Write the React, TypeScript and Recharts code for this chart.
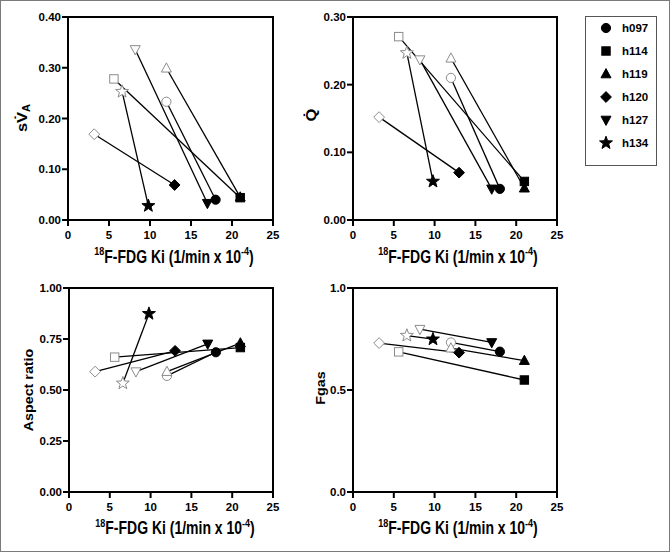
import React from 'react';
import { ScatterChart, Scatter, XAxis, YAxis, ReferenceArea } from 'recharts';

const subjects = ['h097', 'h114', 'h119', 'h120', 'h127', 'h134'];
const shapes = ['circle', 'square', 'triangle', 'diamond', 'down', 'star'];
const kiPre = [12.0, 5.6, 12.0, 3.2, 8.2, 6.6];
const kiPost = [18.0, 21.0, 21.0, 13.0, 17.0, 9.8];

const svaPre = [0.233, 0.278, 0.299, 0.169, 0.336, 0.253];
const svaPost = [0.04, 0.044, 0.045, 0.069, 0.033, 0.028];
const qPre = [0.21, 0.271, 0.239, 0.152, 0.237, 0.247];
const qPost = [0.046, 0.057, 0.047, 0.07, 0.046, 0.057];
const arPre = [0.569, 0.661, 0.59, 0.59, 0.59, 0.533];
const arPost = [0.685, 0.708, 0.73, 0.692, 0.726, 0.874];
const fgPre = [0.733, 0.687, 0.705, 0.73, 0.798, 0.767];
const fgPost = [0.688, 0.549, 0.644, 0.683, 0.733, 0.749];

const xTicks = [0, 5, 10, 15, 20, 25];
const ticks2 = [0, 0.1, 0.2, 0.3, 0.4];
const ticksQ = [0, 0.1, 0.2, 0.3];
const ticksAR = [0, 0.25, 0.5, 0.75, 1.0];
const ticksFg = [0, 0.5, 1.0];

const FONT = '"Liberation Sans", Arial, sans-serif';
const OPEN_STROKE = '#8c8c8c';

function Marker({ shape, cx, cy, open }: { shape: string; cx: number; cy: number; open: boolean }) {
  const fill = open ? '#fff' : '#000';
  const stroke = open ? OPEN_STROKE : '#000';
  const sw = 1;
  if (shape === 'circle') return <circle cx={cx} cy={cy} r={4.6} fill={fill} stroke={stroke} strokeWidth={sw} />;
  if (shape === 'square') return <rect x={cx - 4.2} y={cy - 4.2} width={8.4} height={8.4} fill={fill} stroke={stroke} strokeWidth={sw} />;
  if (shape === 'triangle')
    return <polygon points={`${cx},${cy - 5.4} ${cx + 5},${cy + 3.8} ${cx - 5},${cy + 3.8}`} fill={fill} stroke={stroke} strokeWidth={sw} />;
  if (shape === 'down')
    return <polygon points={`${cx},${cy + 5.4} ${cx + 5},${cy - 3.8} ${cx - 5},${cy - 3.8}`} fill={fill} stroke={stroke} strokeWidth={sw} />;
  if (shape === 'diamond')
    return <polygon points={`${cx},${cy - 5.4} ${cx + 5.4},${cy} ${cx},${cy + 5.4} ${cx - 5.4},${cy}`} fill={fill} stroke={stroke} strokeWidth={sw} />;
  const pts: string[] = [];
  for (let i = 0; i < 10; i++) {
    const r = i % 2 === 0 ? 6.8 : 2.8;
    const a = -Math.PI / 2 + (i * Math.PI) / 5;
    pts.push(`${cx + r * Math.cos(a)},${cy + r * Math.sin(a)}`);
  }
  return <polygon points={pts.join(' ')} fill={fill} stroke={stroke} strokeWidth={sw} />;
}

function buildSeries(pre: number[], post: number[]) {
  return subjects.map((s, i) => [
    { x: kiPre[i], y: pre[i], phase: 'pre', subject: s },
    { x: kiPost[i], y: post[i], phase: 'post', subject: s },
  ]);
}

type PanelProps = {
  px: number;
  py: number;
  pw: number;
  ph: number;
  pre: number[];
  post: number[];
  yMax: number;
  yTicks: number[];
  digits: number;
};

function Panel({ px, py, pw, ph, pre, post, yMax, yTicks, digits }: PanelProps) {
  const yW = 40, xH = 30;
  const mL = 20, mT = 15, mR = 15, mB = 20;
  const series = buildSeries(pre, post);
  const tickStyle = { fontSize: 11.5, fontWeight: 'bold', fill: '#000', fontFamily: FONT };
  return (
    <div style={{ position: 'absolute', left: px - mL - yW, top: py - mT }}>
      <ScatterChart width={mL + yW + pw + mR} height={mT + ph + xH + mB} margin={{ top: mT, left: mL, right: mR, bottom: mB }}>
        <XAxis
          type="number"
          dataKey="x"
          domain={[0, 25]}
          ticks={xTicks}
          height={xH}
          stroke="#000"
          strokeWidth={2}
          tick={tickStyle}
          tickSize={6}
          tickMargin={5}
          axisLine={{ stroke: '#000', strokeWidth: 2 }}
          tickLine={{ stroke: '#000', strokeWidth: 2 }}
          allowDataOverflow
        />
        <YAxis
          type="number"
          dataKey="y"
          domain={[0, yMax]}
          ticks={yTicks}
          width={yW}
          stroke="#000"
          strokeWidth={2}
          tick={tickStyle}
          tickSize={6}
          tickMargin={1}
          tickFormatter={(v: number) => v.toFixed(digits)}
          axisLine={{ stroke: '#000', strokeWidth: 2 }}
          tickLine={{ stroke: '#000', strokeWidth: 2 }}
          allowDataOverflow
        />
        <ReferenceArea x1={0} x2={25} y1={0} y2={yMax} fill="none" fillOpacity={0} stroke="#000" strokeWidth={2} strokeOpacity={1} ifOverflow="visible" />
        {series.map((d, i) => (
          <Scatter
            key={'l' + i}
            data={d}
            line={{ stroke: '#000', strokeWidth: 1.3 }}
            shape={() => <g />}
            isAnimationActive={false}
            legendType="none"
          />
        ))}
        {series.map((d, i) => (
          <Scatter
            key={'m' + i}
            data={d}
            shape={(p: any) => <Marker shape={shapes[i]} cx={p.cx} cy={p.cy} open={p.payload.phase === 'pre'} />}
            isAnimationActive={false}
            legendType="none"
          />
        ))}
      </ScatterChart>
    </div>
  );
}

function XLabel({ cx, by }: { cx: number; by: number }) {
  return (
    <text transform={`translate(${cx},${by}) scale(1,1.25)`} textAnchor="middle" fontSize={14} fontWeight="bold" fontFamily={FONT} fill="#000">
      <tspan fontSize={9} dy={-6}>18</tspan>
      <tspan dy={6}>F-FDG Ki (1/min x 10</tspan>
      <tspan fontSize={9} dy={-6}>-4</tspan>
      <tspan dy={6}>)</tspan>
    </text>
  );
}

function YLabel({ x, cy, size, children }: { x: number; cy: number; size: number; children: React.ReactNode }) {
  return (
    <text transform={`translate(${x},${cy}) rotate(-90) scale(1.1,1)`} textAnchor="middle" fontSize={size} fontWeight="bold" fontFamily={FONT} fill="#000">
      {children}
    </text>
  );
}

export default function App() {
  return (
    <div style={{ position: 'absolute', left: 0, top: 0, width: 670, height: 552, background: '#fff', overflow: 'hidden' }}>
      <Panel px={68} py={17} pw={205} ph={203} pre={svaPre} post={svaPost} yMax={0.4} yTicks={ticks2} digits={2} />
      <Panel px={353} py={17} pw={204} ph={203} pre={qPre} post={qPost} yMax={0.3} yTicks={ticksQ} digits={2} />
      <Panel px={69} py={288} pw={204} ph={204} pre={arPre} post={arPost} yMax={1.0} yTicks={ticksAR} digits={2} />
      <Panel px={353} py={288} pw={204} ph={204} pre={fgPre} post={fgPost} yMax={1.0} yTicks={ticksFg} digits={1} />
      <svg width={670} height={552} style={{ position: 'absolute', left: 0, top: 0, pointerEvents: 'none' }}>
        <rect x={0.5} y={0.5} width={669} height={551} fill="none" stroke="#7a7a7a" strokeWidth={1} />
        <XLabel cx={174} by={262.5} />
        <XLabel cx={458} by={262.5} />
        <XLabel cx={175} by={534} />
        <XLabel cx={458} by={534} />
        <YLabel x={27} cy={118} size={15}>
          s{'V\u0307'}
          <tspan fontSize={10} dy={3}>A</tspan>
        </YLabel>
        <YLabel x={316} cy={115} size={15}>{'Q\u0307'}</YLabel>
        <YLabel x={33} cy={390} size={13}>Aspect ratio</YLabel>
        <YLabel x={325} cy={388} size={13}>Fgas</YLabel>
        <rect x={585.5} y={16.5} width={71} height={149} fill="#fff" stroke="#555" strokeWidth={1} />
        {subjects.map((s, i) => (
          <g key={s}>
            <Marker shape={shapes[i]} cx={606} cy={28 + 23 * i} open={false} />
            <text x={622} y={32 + 23 * i} fontSize={11.5} fontWeight="bold" fontFamily={FONT} fill="#000">
              {s}
            </text>
          </g>
        ))}
      </svg>
    </div>
  );
}
